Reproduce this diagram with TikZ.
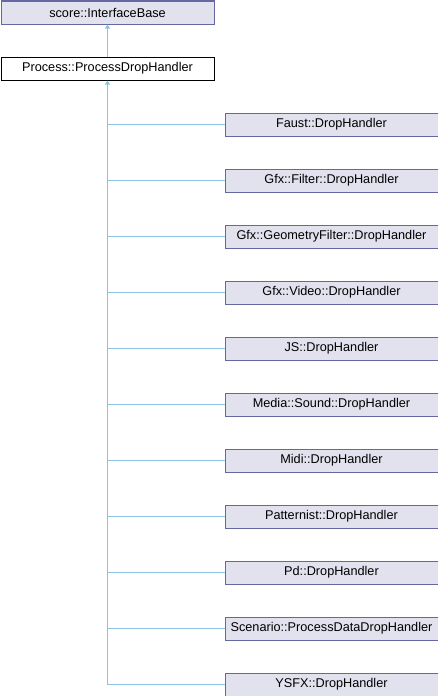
\documentclass[tikz,border=0pt]{standalone}
\usepackage{fontspec}
\setmainfont{Liberation Sans}
\usetikzlibrary{arrows.meta}
\definecolor{boxfill}{RGB}{226,226,239}
\definecolor{boxline}{RGB}{102,102,160}
\definecolor{linkc}{RGB}{140,196,228}
\tikzset{
  cls/.style={draw=boxline, fill=boxfill, line width=1pt, minimum width=213pt, minimum height=23pt, inner sep=0pt, font=\fontsize{12.7}{14}\selectfont, anchor=north west},
  focus/.style={cls, draw=black, fill=white},
  inh/.style={draw=linkc, line width=1pt, -{Triangle[width=5pt,length=4pt]}},
  lnk/.style={draw=linkc, line width=1pt}
}
\begin{document}
\begin{tikzpicture}[x=1pt,y=-1pt]
\useasboundingbox (0,0) rectangle (438,696);
\node[cls] (base) at (0.5,0.5) {score::InterfaceBase};
\node[focus] (proc) at (0.5,56.5) {Process::ProcessDropHandler};
\draw[inh] (proc.north) -- (base.south);
\foreach \name/\lab [count=\i from 0] in {
  c0/Faust::DropHandler,
  c1/Gfx::Filter::DropHandler,
  c2/Gfx::GeometryFilter::DropHandler,
  c3/Gfx::Video::DropHandler,
  c4/JS::DropHandler,
  c5/Media::Sound::DropHandler,
  c6/Midi::DropHandler,
  c7/Patternist::DropHandler,
  c8/Pd::DropHandler,
  c9/Scenario::ProcessDataDropHandler,
  c10/YSFX::DropHandler} {
  \node[cls] (\name) at (224.5,{112.5+56*\i}) {\lab};
  \draw[lnk] (\name.west) -| (proc.south);
}
\coordinate (tail) at (proc.south |- c10.west);
\draw[inh] (tail) -- (proc.south);
\end{tikzpicture}
\end{document}
